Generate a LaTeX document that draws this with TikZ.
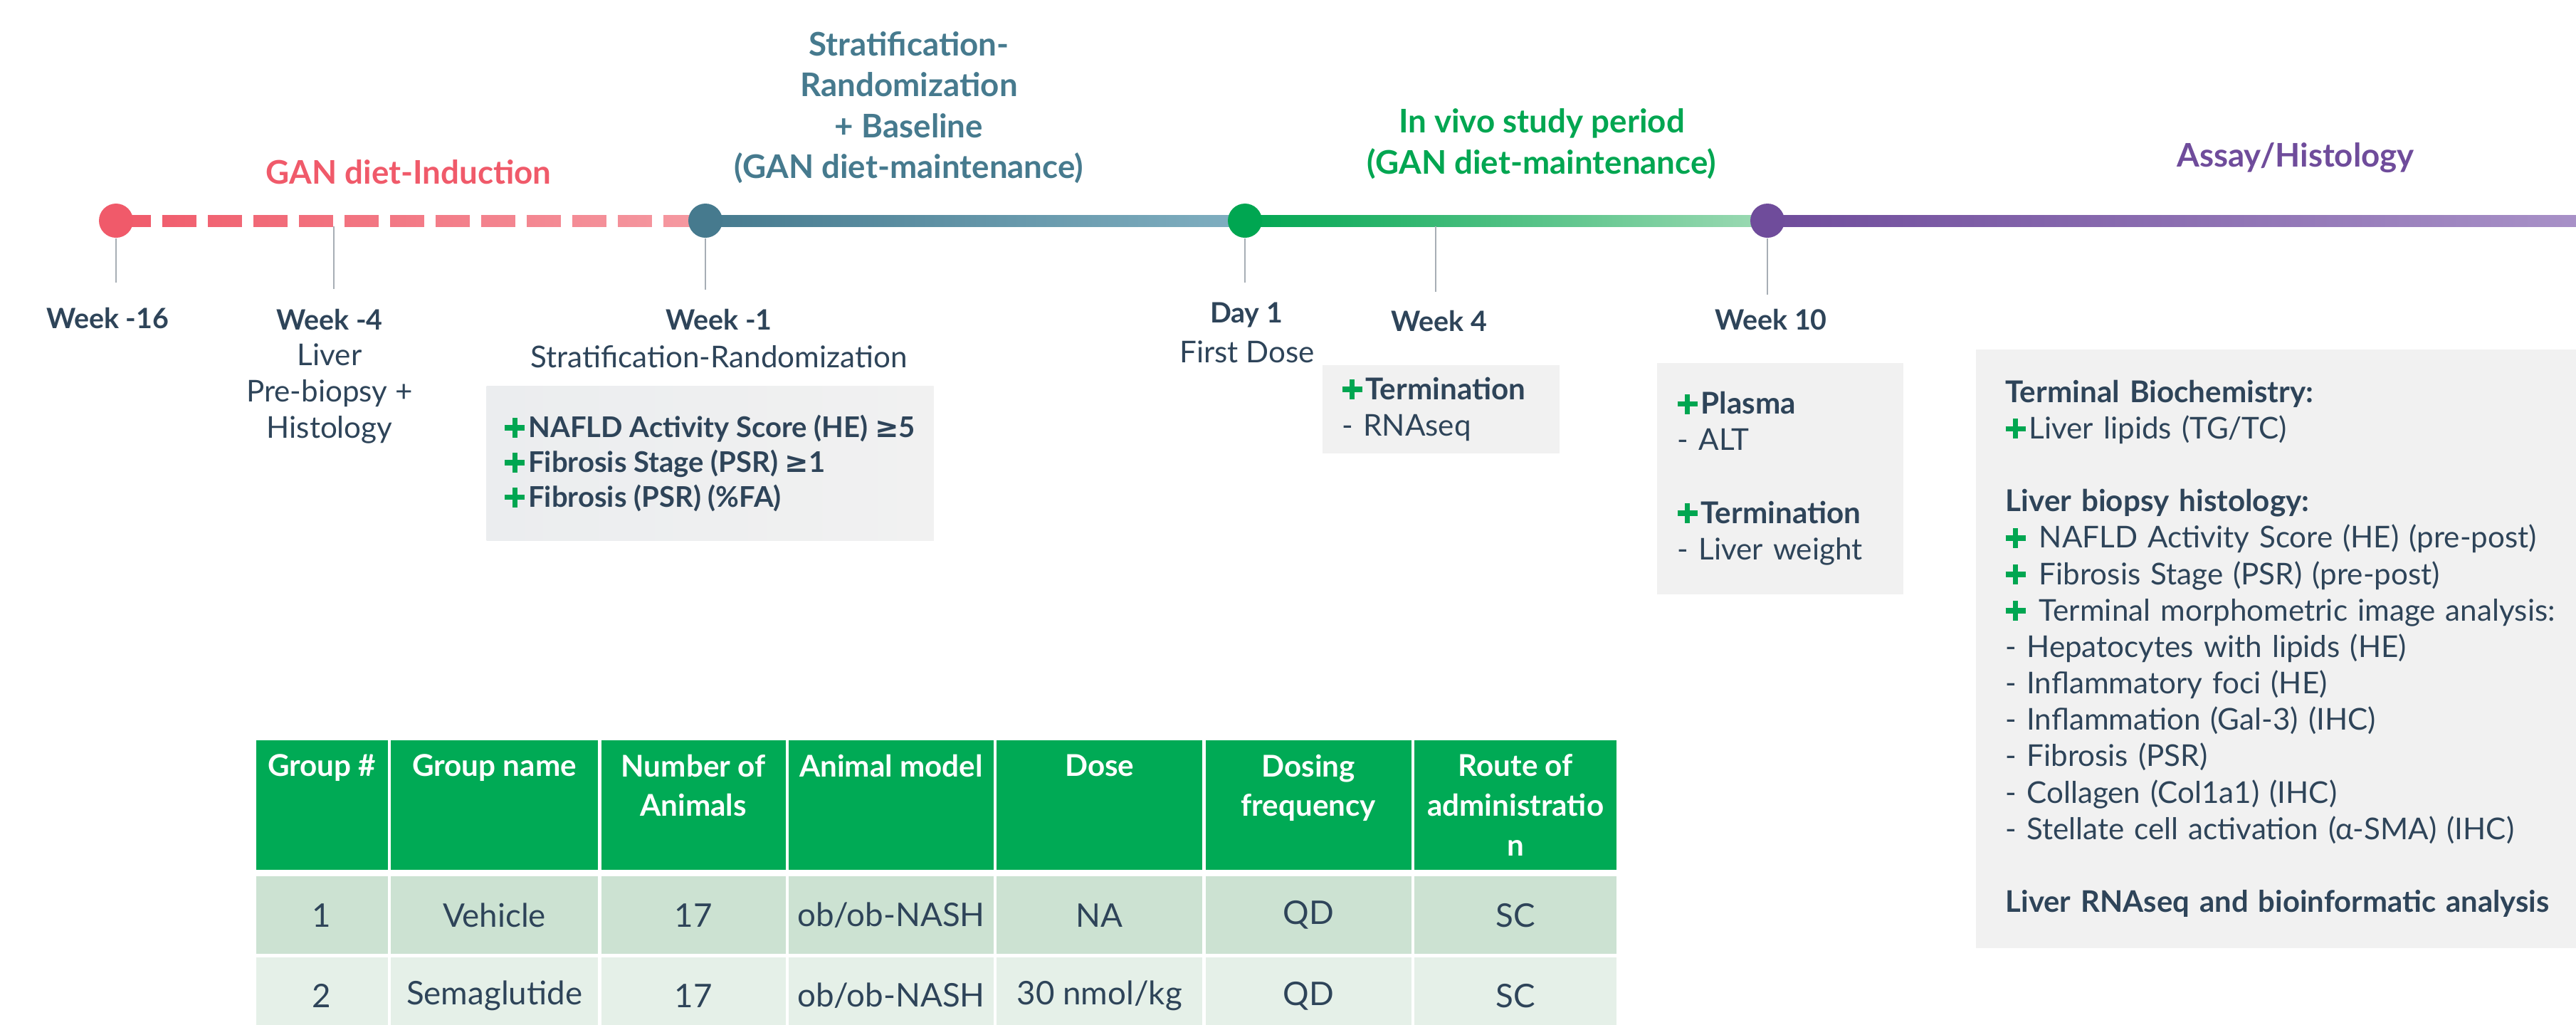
\documentclass[tikz,border=0pt]{standalone}
\usepackage{fontspec}
\setmainfont{Lato}
\newfontfamily\symfont{DejaVu Sans}
\usetikzlibrary{positioning}

\definecolor{ink}{HTML}{2E4459}
\definecolor{gandiet}{HTML}{F05A6A}
\definecolor{gandietlt}{HTML}{F59AA2}
\definecolor{strat}{HTML}{467A8E}
\definecolor{stratlt}{HTML}{80AFC1}
\definecolor{invivo}{HTML}{00A651}
\definecolor{invivolt}{HTML}{9DDAB4}
\definecolor{assay}{HTML}{6F4C9B}
\definecolor{assaylt}{HTML}{A992C8}
\definecolor{tickgray}{HTML}{A7AEB5}
\definecolor{boxgray}{HTML}{F1F1F1}
\definecolor{boxdark}{HTML}{EBEDEF}
\definecolor{hdrgreen}{HTML}{00AA55}
\definecolor{rowone}{HTML}{CCE2D2}
\definecolor{rowtwo}{HTML}{E5F0E8}

% thick green plus used as bullet
\newcommand{\gplus}{\textcolor{invivo}{\rule[0.1025cm]{0.28cm}{0.075cm}\hspace{-0.1775cm}\rule{0.075cm}{0.28cm}}\hspace{0.1525cm}}
\newcommand{\atleast}{{\symfont ≥}}
\newcommand{\hdrtext}[2]{\parbox[c][1.82cm][t]{#1}{\centering\vspace{0.2cm}#2}}

\begin{document}
\begin{tikzpicture}[x=1cm, y=-1cm,
    dot/.style={circle, inner sep=0pt, minimum size=0.48cm},
    tick/.style={draw=tickgray, line width=0.5pt},
    when/.style={font=\fontsize{11.2}{13}\selectfont\bfseries, text=ink, inner sep=0pt},
    what/.style={font=\fontsize{12}{14.5}\selectfont, text=ink, inner sep=0pt, align=center},
    period/.style={font=\fontsize{13}{16.3}\selectfont\bfseries, inner sep=0pt, align=center},
    infobox/.style={fill=boxgray, anchor=north west, inner ysep=0pt, align=left, text=ink, font=\fontsize{12}{14.56}\selectfont},
    hdr/.style={fill=hdrgreen, text=white, inner sep=0pt, font=\fontsize{12}{15.9}\selectfont\bfseries},
    rowa/.style={fill=rowone, text=ink, inner sep=0pt, minimum height=1.09cm, font=\fontsize{13}{15}\selectfont},
    rowb/.style={rowa, fill=rowtwo}]
\useasboundingbox[fill=white] (0,0) rectangle (36.19,14.39);

% time points on the axis
\coordinate (t16) at (1.63,3.10);
\coordinate (t4) at (4.69,3.10);
\coordinate (t1) at (9.91,3.10);
\coordinate (d1) at (17.49,3.10);
\coordinate (w4) at (20.17,3.10);
\coordinate (w10) at (24.83,3.10);
\coordinate (tend) at (36.40,3.10);

% bars between the time points
\shade[left color=gandiet, right color=gandietlt] ([yshift=0.08cm]t16) rectangle ([yshift=-0.08cm]t1);
\draw[white, line width=0.2cm, dash pattern=on 0.16cm off 0.48cm] ([xshift=0.49cm]t16) -- ([xshift=-0.23cm]t1);
\shade[left color=strat, right color=stratlt] ([yshift=0.08cm]t1) rectangle ([yshift=-0.08cm]d1);
\shade[left color=invivo, right color=invivolt] ([yshift=0.08cm]d1) rectangle ([yshift=-0.08cm]w10);
\shade[left color=assay, right color=assaylt] ([yshift=0.08cm]w10) rectangle ([yshift=-0.08cm]tend);

\node[dot, fill=gandiet] (n16) at (t16) {};
\node[dot, fill=strat] (n1) at (t1) {};
\node[dot, fill=invivo] (nd1) at (d1) {};
\node[dot, fill=assay] (n10) at (w10) {};

% ticks
\coordinate (k16) at (1.63,3.97);
\coordinate (k4a) at (4.69,3.18);
\coordinate (k4b) at (4.69,4.06);
\coordinate (k1) at (9.91,4.07);
\coordinate (kd1) at (17.49,3.97);
\coordinate (kw4a) at (20.17,3.18);
\coordinate (kw4b) at (20.17,4.10);
\coordinate (k10) at (24.83,4.14);
\draw[tick] (n16) -- (k16);
\draw[tick] (k4a) -- (k4b);
\draw[tick] (n1) -- (k1);
\draw[tick] (nd1) -- (kd1);
\draw[tick] (kw4a) -- (kw4b);
\draw[tick] (n10) -- (k10);

% phase titles
\node[period, text=gandiet] (pind) at (5.74,2.42) {GAN diet-Induction};
\node[period, text=strat] (pstrat) at (12.77,1.51) {Stratification-\\Randomization\\+ Baseline\\(GAN diet-maintenance)};
\node[period, text=invivo] (pvivo) at (21.66,2.02) {In vivo study period\\(GAN diet-maintenance)};
\node[period, text=assay] (passay) at (32.25,2.22) {Assay/Histology};

% time point labels
\node[when] (l16) at (1.51,4.47) {Week -16};
\node[when] (l4) at (4.63,4.49) {Week -4};
\node[what] (s4) at (4.63,5.53) {Liver\\Pre-biopsy +\\Histology};
\node[when] (l1) at (10.10,4.49) {Week -1};
\node[what] (s1) at (10.10,5.01) {Stratification-Randomization};
\node[when] (ld1) at (17.51,4.43) {Day 1};
\node[what] (sd1) at (17.52,4.94) {First Dose};
\node[when] (lw4) at (20.22,4.51) {Week 4};
\node[when] (l10) at (24.88,4.49) {Week 10};

% grey boxes
\node[infobox, left color=boxdark, right color=boxgray, minimum width=6.28cm, minimum height=2.17cm, font=\fontsize{11.4}{13.9}\selectfont\bfseries] (crit) at (6.83,5.42)
  {\gplus NAFLD Activity Score (HE) \atleast5\\\gplus Fibrosis Stage (PSR) \atleast1\\\gplus Fibrosis (PSR) (\%FA)};
\node[infobox, minimum height=1.24cm, text width=2.77cm, inner xsep=0.28cm] (box4) at (18.57,5.12)
  {\gplus\textbf{Termination}\\- RNAseq};
\node[infobox, minimum height=3.25cm, text width=2.88cm, inner xsep=0.29cm] (box10) at (23.27,5.09)
  {\gplus\textbf{Plasma}\\- ALT\\[14.56pt]\gplus\textbf{Termination}\\- Liver weight};
\node[infobox, minimum height=8.41cm, text width=8.6cm, inner xsep=0.42cm] (boxend) at (27.75,4.90)
  {\textbf{Terminal Biochemistry:}\\
   \gplus Liver lipids (TG/TC)\\[14.56pt]
   \textbf{Liver biopsy histology:}\\
   \gplus{} NAFLD Activity Score (HE) (pre-post)\\
   \gplus{} Fibrosis Stage (PSR) (pre-post)\\
   \gplus{} Terminal morphometric image analysis:\\
   - Hepatocytes with lipids (HE)\\
   - Inflammatory foci (HE)\\
   - Inflammation (Gal-3) (IHC)\\
   - Fibrosis (PSR)\\
   - Collagen (Col1a1) (IHC)\\
   - Stellate cell activation (α-SMA) (IHC)\\[14.56pt]
   {\fontsize{11.9}{14.56}\selectfont\bfseries Liver RNAseq and bioinformatic analysis}};

% group table
\node[hdr, anchor=north west] (h1) at (3.59,10.39) {\hdrtext{1.85cm}{Group \#}};
\node[hdr, right=0.03cm of h1] (h2) {\hdrtext{2.91cm}{Group name}};
\node[hdr, right=0.03cm of h2] (h3) {\hdrtext{2.59cm}{Number of\\Animals}};
\node[hdr, right=0.03cm of h3] (h4) {\hdrtext{2.88cm}{Animal model}};
\node[hdr, right=0.03cm of h4] (h5) {\hdrtext{2.89cm}{Dose}};
\node[hdr, right=0.03cm of h5] (h6) {\hdrtext{2.89cm}{Dosing\\frequency}};
\node[hdr, right=0.03cm of h6] (h7) {\hdrtext{2.84cm}{Route of\\administratio\\n}};

\node[rowa, minimum width=1.85cm, below=0.08cm of h1] (a1) {1};
\node[rowa, minimum width=2.91cm, right=0.03cm of a1] (a2) {Vehicle};
\node[rowa, minimum width=2.59cm, right=0.03cm of a2] (a3) {17};
\node[rowa, minimum width=2.88cm, right=0.03cm of a3] (a4) {ob/ob-NASH};
\node[rowa, minimum width=2.89cm, right=0.03cm of a4] (a5) {NA};
\node[rowa, minimum width=2.89cm, right=0.03cm of a5] (a6) {QD};
\node[rowa, minimum width=2.84cm, right=0.03cm of a6] (a7) {SC};

\node[rowb, minimum width=1.85cm, below=0.03cm of a1] (b1) {2};
\node[rowb, minimum width=2.91cm, right=0.03cm of b1] (b2) {Semaglutide};
\node[rowb, minimum width=2.59cm, right=0.03cm of b2] (b3) {17};
\node[rowb, minimum width=2.88cm, right=0.03cm of b3] (b4) {ob/ob-NASH};
\node[rowb, minimum width=2.89cm, right=0.03cm of b4] (b5) {30 nmol/kg};
\node[rowb, minimum width=2.89cm, right=0.03cm of b5] (b6) {QD};
\node[rowb, minimum width=2.84cm, right=0.03cm of b6] (b7) {SC};
\end{tikzpicture}
\end{document}
